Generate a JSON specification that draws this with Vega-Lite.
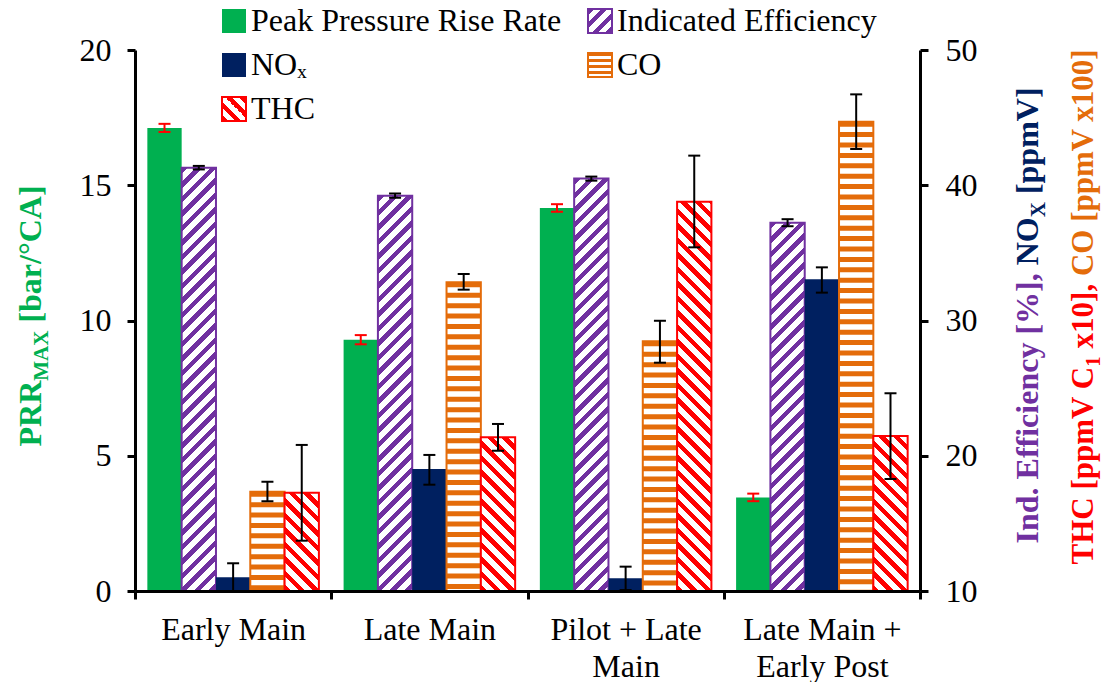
{
"$schema":"https://vega.github.io/schema/vega-lite/v6.json",
"width":785,"height":541,
"autosize":{"type":"none"},
"padding":{"left":135,"top":50,"right":184,"bottom":91},
"background":"white",
"params":[
{"name":"ps","value":[
{"offset":0,"color":"#7030a0"},{"offset":0.014,"color":"#7030a0"},{"offset":0.014,"color":"#fff"},{"offset":0.03125,"color":"#fff"},
{"offset":0.03125,"color":"#7030a0"},{"offset":0.04525,"color":"#7030a0"},{"offset":0.04525,"color":"#fff"},{"offset":0.0625,"color":"#fff"},
{"offset":0.0625,"color":"#7030a0"},{"offset":0.0765,"color":"#7030a0"},{"offset":0.0765,"color":"#fff"},{"offset":0.09375,"color":"#fff"},
{"offset":0.09375,"color":"#7030a0"},{"offset":0.10775,"color":"#7030a0"},{"offset":0.10775,"color":"#fff"},{"offset":0.125,"color":"#fff"},
{"offset":0.125,"color":"#7030a0"},{"offset":0.139,"color":"#7030a0"},{"offset":0.139,"color":"#fff"},{"offset":0.15625,"color":"#fff"},
{"offset":0.15625,"color":"#7030a0"},{"offset":0.17025,"color":"#7030a0"},{"offset":0.17025,"color":"#fff"},{"offset":0.1875,"color":"#fff"},
{"offset":0.1875,"color":"#7030a0"},{"offset":0.2015,"color":"#7030a0"},{"offset":0.2015,"color":"#fff"},{"offset":0.21875,"color":"#fff"},
{"offset":0.21875,"color":"#7030a0"},{"offset":0.23275,"color":"#7030a0"},{"offset":0.23275,"color":"#fff"},{"offset":0.25,"color":"#fff"},
{"offset":0.25,"color":"#7030a0"},{"offset":0.264,"color":"#7030a0"},{"offset":0.264,"color":"#fff"},{"offset":0.28125,"color":"#fff"},
{"offset":0.28125,"color":"#7030a0"},{"offset":0.29525,"color":"#7030a0"},{"offset":0.29525,"color":"#fff"},{"offset":0.3125,"color":"#fff"},
{"offset":0.3125,"color":"#7030a0"},{"offset":0.3265,"color":"#7030a0"},{"offset":0.3265,"color":"#fff"},{"offset":0.34375,"color":"#fff"},
{"offset":0.34375,"color":"#7030a0"},{"offset":0.35775,"color":"#7030a0"},{"offset":0.35775,"color":"#fff"},{"offset":0.375,"color":"#fff"},
{"offset":0.375,"color":"#7030a0"},{"offset":0.389,"color":"#7030a0"},{"offset":0.389,"color":"#fff"},{"offset":0.40625,"color":"#fff"},
{"offset":0.40625,"color":"#7030a0"},{"offset":0.42025,"color":"#7030a0"},{"offset":0.42025,"color":"#fff"},{"offset":0.4375,"color":"#fff"},
{"offset":0.4375,"color":"#7030a0"},{"offset":0.4515,"color":"#7030a0"},{"offset":0.4515,"color":"#fff"},{"offset":0.46875,"color":"#fff"},
{"offset":0.46875,"color":"#7030a0"},{"offset":0.48275,"color":"#7030a0"},{"offset":0.48275,"color":"#fff"},{"offset":0.5,"color":"#fff"},
{"offset":0.5,"color":"#7030a0"},{"offset":0.514,"color":"#7030a0"},{"offset":0.514,"color":"#fff"},{"offset":0.53125,"color":"#fff"},
{"offset":0.53125,"color":"#7030a0"},{"offset":0.54525,"color":"#7030a0"},{"offset":0.54525,"color":"#fff"},{"offset":0.5625,"color":"#fff"},
{"offset":0.5625,"color":"#7030a0"},{"offset":0.5765,"color":"#7030a0"},{"offset":0.5765,"color":"#fff"},{"offset":0.59375,"color":"#fff"},
{"offset":0.59375,"color":"#7030a0"},{"offset":0.60775,"color":"#7030a0"},{"offset":0.60775,"color":"#fff"},{"offset":0.625,"color":"#fff"},
{"offset":0.625,"color":"#7030a0"},{"offset":0.639,"color":"#7030a0"},{"offset":0.639,"color":"#fff"},{"offset":0.65625,"color":"#fff"},
{"offset":0.65625,"color":"#7030a0"},{"offset":0.67025,"color":"#7030a0"},{"offset":0.67025,"color":"#fff"},{"offset":0.6875,"color":"#fff"},
{"offset":0.6875,"color":"#7030a0"},{"offset":0.7015,"color":"#7030a0"},{"offset":0.7015,"color":"#fff"},{"offset":0.71875,"color":"#fff"},
{"offset":0.71875,"color":"#7030a0"},{"offset":0.73275,"color":"#7030a0"},{"offset":0.73275,"color":"#fff"},{"offset":0.75,"color":"#fff"},
{"offset":0.75,"color":"#7030a0"},{"offset":0.764,"color":"#7030a0"},{"offset":0.764,"color":"#fff"},{"offset":0.78125,"color":"#fff"},
{"offset":0.78125,"color":"#7030a0"},{"offset":0.79525,"color":"#7030a0"},{"offset":0.79525,"color":"#fff"},{"offset":0.8125,"color":"#fff"},
{"offset":0.8125,"color":"#7030a0"},{"offset":0.8265,"color":"#7030a0"},{"offset":0.8265,"color":"#fff"},{"offset":0.84375,"color":"#fff"},
{"offset":0.84375,"color":"#7030a0"},{"offset":0.85775,"color":"#7030a0"},{"offset":0.85775,"color":"#fff"},{"offset":0.875,"color":"#fff"},
{"offset":0.875,"color":"#7030a0"},{"offset":0.889,"color":"#7030a0"},{"offset":0.889,"color":"#fff"},{"offset":0.90625,"color":"#fff"},
{"offset":0.90625,"color":"#7030a0"},{"offset":0.92025,"color":"#7030a0"},{"offset":0.92025,"color":"#fff"},{"offset":0.9375,"color":"#fff"},
{"offset":0.9375,"color":"#7030a0"},{"offset":0.9515,"color":"#7030a0"},{"offset":0.9515,"color":"#fff"},{"offset":0.96875,"color":"#fff"},
{"offset":0.96875,"color":"#7030a0"},{"offset":0.98275,"color":"#7030a0"},{"offset":0.98275,"color":"#fff"},{"offset":1,"color":"#fff"}
]},
{"name":"pt","value":[
{"offset":0,"color":"red"},{"offset":0.014,"color":"red"},{"offset":0.014,"color":"#fff"},{"offset":0.03125,"color":"#fff"},
{"offset":0.03125,"color":"red"},{"offset":0.04525,"color":"red"},{"offset":0.04525,"color":"#fff"},{"offset":0.0625,"color":"#fff"},
{"offset":0.0625,"color":"red"},{"offset":0.0765,"color":"red"},{"offset":0.0765,"color":"#fff"},{"offset":0.09375,"color":"#fff"},
{"offset":0.09375,"color":"red"},{"offset":0.10775,"color":"red"},{"offset":0.10775,"color":"#fff"},{"offset":0.125,"color":"#fff"},
{"offset":0.125,"color":"red"},{"offset":0.139,"color":"red"},{"offset":0.139,"color":"#fff"},{"offset":0.15625,"color":"#fff"},
{"offset":0.15625,"color":"red"},{"offset":0.17025,"color":"red"},{"offset":0.17025,"color":"#fff"},{"offset":0.1875,"color":"#fff"},
{"offset":0.1875,"color":"red"},{"offset":0.2015,"color":"red"},{"offset":0.2015,"color":"#fff"},{"offset":0.21875,"color":"#fff"},
{"offset":0.21875,"color":"red"},{"offset":0.23275,"color":"red"},{"offset":0.23275,"color":"#fff"},{"offset":0.25,"color":"#fff"},
{"offset":0.25,"color":"red"},{"offset":0.264,"color":"red"},{"offset":0.264,"color":"#fff"},{"offset":0.28125,"color":"#fff"},
{"offset":0.28125,"color":"red"},{"offset":0.29525,"color":"red"},{"offset":0.29525,"color":"#fff"},{"offset":0.3125,"color":"#fff"},
{"offset":0.3125,"color":"red"},{"offset":0.3265,"color":"red"},{"offset":0.3265,"color":"#fff"},{"offset":0.34375,"color":"#fff"},
{"offset":0.34375,"color":"red"},{"offset":0.35775,"color":"red"},{"offset":0.35775,"color":"#fff"},{"offset":0.375,"color":"#fff"},
{"offset":0.375,"color":"red"},{"offset":0.389,"color":"red"},{"offset":0.389,"color":"#fff"},{"offset":0.40625,"color":"#fff"},
{"offset":0.40625,"color":"red"},{"offset":0.42025,"color":"red"},{"offset":0.42025,"color":"#fff"},{"offset":0.4375,"color":"#fff"},
{"offset":0.4375,"color":"red"},{"offset":0.4515,"color":"red"},{"offset":0.4515,"color":"#fff"},{"offset":0.46875,"color":"#fff"},
{"offset":0.46875,"color":"red"},{"offset":0.48275,"color":"red"},{"offset":0.48275,"color":"#fff"},{"offset":0.5,"color":"#fff"},
{"offset":0.5,"color":"red"},{"offset":0.514,"color":"red"},{"offset":0.514,"color":"#fff"},{"offset":0.53125,"color":"#fff"},
{"offset":0.53125,"color":"red"},{"offset":0.54525,"color":"red"},{"offset":0.54525,"color":"#fff"},{"offset":0.5625,"color":"#fff"},
{"offset":0.5625,"color":"red"},{"offset":0.5765,"color":"red"},{"offset":0.5765,"color":"#fff"},{"offset":0.59375,"color":"#fff"},
{"offset":0.59375,"color":"red"},{"offset":0.60775,"color":"red"},{"offset":0.60775,"color":"#fff"},{"offset":0.625,"color":"#fff"},
{"offset":0.625,"color":"red"},{"offset":0.639,"color":"red"},{"offset":0.639,"color":"#fff"},{"offset":0.65625,"color":"#fff"},
{"offset":0.65625,"color":"red"},{"offset":0.67025,"color":"red"},{"offset":0.67025,"color":"#fff"},{"offset":0.6875,"color":"#fff"},
{"offset":0.6875,"color":"red"},{"offset":0.7015,"color":"red"},{"offset":0.7015,"color":"#fff"},{"offset":0.71875,"color":"#fff"},
{"offset":0.71875,"color":"red"},{"offset":0.73275,"color":"red"},{"offset":0.73275,"color":"#fff"},{"offset":0.75,"color":"#fff"},
{"offset":0.75,"color":"red"},{"offset":0.764,"color":"red"},{"offset":0.764,"color":"#fff"},{"offset":0.78125,"color":"#fff"},
{"offset":0.78125,"color":"red"},{"offset":0.79525,"color":"red"},{"offset":0.79525,"color":"#fff"},{"offset":0.8125,"color":"#fff"},
{"offset":0.8125,"color":"red"},{"offset":0.8265,"color":"red"},{"offset":0.8265,"color":"#fff"},{"offset":0.84375,"color":"#fff"},
{"offset":0.84375,"color":"red"},{"offset":0.85775,"color":"red"},{"offset":0.85775,"color":"#fff"},{"offset":0.875,"color":"#fff"},
{"offset":0.875,"color":"red"},{"offset":0.889,"color":"red"},{"offset":0.889,"color":"#fff"},{"offset":0.90625,"color":"#fff"},
{"offset":0.90625,"color":"red"},{"offset":0.92025,"color":"red"},{"offset":0.92025,"color":"#fff"},{"offset":0.9375,"color":"#fff"},
{"offset":0.9375,"color":"red"},{"offset":0.9515,"color":"red"},{"offset":0.9515,"color":"#fff"},{"offset":0.96875,"color":"#fff"},
{"offset":0.96875,"color":"red"},{"offset":0.98275,"color":"red"},{"offset":0.98275,"color":"#fff"},{"offset":1,"color":"#fff"}
]},
{"name":"pc","value":[
{"offset":0,"color":"#e46c0a"},{"offset":0.125,"color":"#e46c0a"},{"offset":0.125,"color":"#fff"},{"offset":0.25,"color":"#fff"},
{"offset":0.25,"color":"#e46c0a"},{"offset":0.375,"color":"#e46c0a"},{"offset":0.375,"color":"#fff"},{"offset":0.5,"color":"#fff"},
{"offset":0.5,"color":"#e46c0a"},{"offset":0.625,"color":"#e46c0a"},{"offset":0.625,"color":"#fff"},{"offset":0.75,"color":"#fff"},
{"offset":0.75,"color":"#e46c0a"},{"offset":0.875,"color":"#e46c0a"},{"offset":0.875,"color":"#fff"},{"offset":1,"color":"#fff"}
]}
],
"data":{"values":[
{"g":"Early Main","s":"Peak Pressure Rise Rate","v":17.12,"lo":16.97,"hi":17.27},
{"g":"Early Main","s":"Indicated Efficiency","v":41.3,"lo":41.17,"hi":41.43},
{"g":"Early Main","s":"NOx","v":11.01,"lo":10.0,"hi":12.05},
{"g":"Early Main","s":"CO","v":17.34,"lo":16.63,"hi":18.08},
{"g":"Early Main","s":"THC","v":17.27,"lo":13.72,"hi":20.8},
{"g":"Late Main","s":"Peak Pressure Rise Rate","v":9.29,"lo":9.12,"hi":9.46},
{"g":"Late Main","s":"Indicated Efficiency","v":39.23,"lo":39.07,"hi":39.39},
{"g":"Late Main","s":"NOx","v":19.02,"lo":17.86,"hi":20.06},
{"g":"Late Main","s":"CO","v":32.82,"lo":32.28,"hi":33.44},
{"g":"Late Main","s":"THC","v":21.36,"lo":20.37,"hi":22.35},
{"g":"Pilot + Late Main","s":"Peak Pressure Rise Rate","v":14.16,"lo":14.02,"hi":14.3},
{"g":"Pilot + Late Main","s":"Indicated Efficiency","v":40.49,"lo":40.34,"hi":40.64},
{"g":"Pilot + Late Main","s":"NOx","v":10.95,"lo":10.07,"hi":11.8},
{"g":"Pilot + Late Main","s":"CO","v":28.46,"lo":26.88,"hi":29.98},
{"g":"Pilot + Late Main","s":"THC","v":38.78,"lo":35.41,"hi":42.19},
{"g":"Late Main + Early Post","s":"Peak Pressure Rise Rate","v":3.46,"lo":3.32,"hi":3.6},
{"g":"Late Main + Early Post","s":"Indicated Efficiency","v":37.23,"lo":36.97,"hi":37.49},
{"g":"Late Main + Early Post","s":"NOx","v":33.05,"lo":32.06,"hi":33.93},
{"g":"Late Main + Early Post","s":"CO","v":44.7,"lo":42.68,"hi":46.72},
{"g":"Late Main + Early Post","s":"THC","v":21.46,"lo":18.28,"hi":24.62}
]},
"encoding":{
"x":{"field":"g","type":"nominal","sort":null,
 "scale":{"domain":["Early Main","Late Main","Pilot + Late Main","Late Main + Early Post"],"paddingInner":0,"paddingOuter":0},
 "axis":{"title":null,"orient":"bottom","tickBand":"extent","labelAngle":0,"labelPadding":15,"labelLineHeight":37,"zindex":1,
  "labelExpr":"datum.label==='Pilot + Late Main'?['Pilot + Late','Main']:datum.label==='Late Main + Early Post'?['Late Main +','Early Post']:datum.label"}},
"xOffset":{"field":"s","type":"nominal","scale":{"domain":["Peak Pressure Rise Rate","Indicated Efficiency","NOx","CO","THC"],"paddingInner":0,"paddingOuter":0.36}}
},
"layer":[
{"transform":[{"filter":"datum.s==='Peak Pressure Rise Rate'"}],
 "mark":{"type":"bar","fill":"#00b050"},
 "encoding":{"y":{"field":"v","type":"quantitative","scale":{"domain":[0,20],"nice":false,"zero":false},
  "axis":{"orient":"left","values":[0,5,10,15,20],"labelPadding":16,"zindex":1,"title":"PRR","titleColor":"#00b050","titleX":-95,"titleY":396}}}},
{"transform":[{"filter":"datum.s==='Peak Pressure Rise Rate'"}],
 "mark":{"type":"rule","color":"red","strokeWidth":2},
 "encoding":{"y":{"field":"lo","type":"quantitative","scale":{"domain":[0,20],"nice":false,"zero":false},
  "axis":{"orient":"left","domain":false,"ticks":false,"labels":false,"title":"MAX","titleColor":"#00b050","titleFontSize":21,"titleX":-88,"titleY":330.2}},
  "y2":{"field":"hi"}}},
{"transform":[{"filter":"datum.s==='Peak Pressure Rise Rate'"}],
 "mark":{"type":"tick","color":"red","size":12,"thickness":2,"opacity":1},
 "encoding":{"y":{"field":"lo","type":"quantitative","scale":{"domain":[0,20],"nice":false,"zero":false},
  "axis":{"orient":"left","domain":false,"ticks":false,"labels":false,"title":"[bar/°CA]","titleColor":"#00b050","titleX":-95,"titleY":272.1}}}},
{"transform":[{"filter":"datum.s==='Peak Pressure Rise Rate'"}],
 "mark":{"type":"tick","color":"red","size":12,"thickness":2,"opacity":1},
 "encoding":{"y":{"field":"hi","type":"quantitative","scale":{"domain":[0,20],"nice":false,"zero":false},"axis":null}}},
{"transform":[{"filter":"datum.s==='Indicated Efficiency'"}],
 "mark":{"type":"bar","fill":{"expr":"{gradient:'linear',x1:0,y1:0,x2:464*34.31/(1177.2+pow((datum.v-10)*13.525,2)),y2:464*(datum.v-10)*13.525/(1177.2+pow((datum.v-10)*13.525,2)),stops:ps}"},"stroke":"#7030a0","strokeWidth":2},
 "encoding":{"y":{"field":"v","type":"quantitative","scale":{"domain":[10,50],"nice":false,"zero":false},
  "axis":{"orient":"right","values":[10,20,30,40,50],"labelPadding":17,"zindex":1,"title":"Ind. Efficiency [%],","titleColor":"#7030a0","titleX":117,"titleY":493}},
  "y2":{"datum":10}}},
{"transform":[{"filter":"datum.s==='NOx'"}],
 "mark":{"type":"bar","strokeWidth":2},
 "encoding":{"y":{"field":"v","type":"quantitative","scale":{"domain":[10,50],"nice":false,"zero":false},
  "axis":{"orient":"right","domain":false,"ticks":false,"labels":false,"title":"NO","titleColor":"#002060","titleX":117,"titleY":214.8}},
  "y2":{"datum":10},
  "color":{"field":"s","type":"nominal",
   "scale":{"domain":["Peak Pressure Rise Rate","Indicated Efficiency","NOx","CO","THC"],"range":["#00b050",
    {"expr":"{gradient:'linear',x1:0,y1:0,x2:9,y2:9,stops:ps}"},
    "#002060",
    {"expr":"{gradient:'linear',x1:0,y1:0,x2:0,y2:1,stops:pc}"},
    {"expr":"{gradient:'linear',x1:0,y1:1,x2:9,y2:-8,stops:pt}"}
   ]},
   "legend":{"orient":"none","legendX":83,"legendY":-45,"columns":2,"direction":"horizontal","title":null,"symbolType":"square","symbolSize":576,"symbolStrokeWidth":2,"symbolOpacity":1,
    "labelFont":"Liberation Serif","labelFontSize":32,"labelColor":"black","labelOffset":1,"labelLimit":500,"rowPadding":12,"columnPadding":22,"padding":0,
    "labelExpr":"datum.label==='NOx'?'NOₓ':datum.label"}},
  "stroke":{"field":"s","type":"nominal",
   "scale":{"domain":["Peak Pressure Rise Rate","Indicated Efficiency","NOx","CO","THC"],"range":["transparent","#7030a0","transparent","#e46c0a","red"]},
   "legend":{"orient":"none","legendX":83,"legendY":-45,"columns":2,"direction":"horizontal","title":null,"symbolType":"square","symbolSize":576,"symbolStrokeWidth":2,"symbolOpacity":1,
    "labelFont":"Liberation Serif","labelFontSize":32,"labelColor":"black","labelOffset":1,"labelLimit":500,"rowPadding":12,"columnPadding":22,"padding":0,
    "labelExpr":"datum.label==='NOx'?'NOₓ':datum.label"}}}},
{"transform":[{"filter":"datum.s==='CO'"}],
 "mark":{"type":"bar","fill":"#fff","stroke":"#e46c0a","strokeWidth":2},
 "encoding":{"y":{"field":"v","type":"quantitative","scale":{"domain":[10,50],"nice":false,"zero":false},
  "axis":{"orient":"right","domain":false,"ticks":false,"labels":false,"title":"X","titleColor":"#002060","titleFontSize":21,"titleX":124,"titleY":166.8}},
  "y2":{"datum":10}}},
{"transform":[{"filter":"datum.s==='CO'"}],
 "mark":{"type":"rule","color":"#e46c0a","strokeWidth":34.31,"strokeDash":[5,5.4],"strokeCap":"butt"},
 "encoding":{"y":{"field":"v","type":"quantitative","scale":{"domain":[10,50],"nice":false,"zero":false},
  "axis":{"orient":"right","domain":false,"ticks":false,"labels":false,"title":"[ppmV]","titleColor":"#002060","titleX":117,"titleY":143.6}},
  "y2":{"datum":10}}},
{"transform":[{"filter":"datum.s==='THC'"}],
 "mark":{"type":"bar","fill":{"expr":"{gradient:'linear',x1:0,y1:1,x2:464*34.31/(1177.2+pow((datum.v-10)*13.525,2)),y2:1-464*(datum.v-10)*13.525/(1177.2+pow((datum.v-10)*13.525,2)),stops:pt}"},"stroke":"red","strokeWidth":2},
 "encoding":{"y":{"field":"v","type":"quantitative","scale":{"domain":[10,50],"nice":false,"zero":false},
  "axis":{"orient":"right","domain":false,"ticks":false,"labels":false,"title":"THC [ppmV C","titleColor":"red","titleFontSize":31,"titleX":172,"titleY":514}},
  "y2":{"datum":10}}},
{"transform":[{"filter":"datum.s!=='Peak Pressure Rise Rate'"}],
 "mark":{"type":"rule","color":"black","strokeWidth":2},
 "encoding":{"y":{"field":"lo","type":"quantitative","scale":{"domain":[10,50],"nice":false,"zero":false},
  "axis":{"orient":"right","domain":false,"ticks":false,"labels":false,"title":"1","titleColor":"red","titleFontSize":20,"titleX":179,"titleY":315.9}},
  "y2":{"field":"hi"}}},
{"transform":[{"filter":"datum.s!=='Peak Pressure Rise Rate'"}],
 "mark":{"type":"tick","color":"black","size":12,"thickness":2,"opacity":1},
 "encoding":{"y":{"field":"lo","type":"quantitative","scale":{"domain":[10,50],"nice":false,"zero":false},
  "axis":{"orient":"right","domain":false,"ticks":false,"labels":false,"title":"x10],","titleColor":"red","titleFontSize":31,"titleX":172,"titleY":297.9}}}},
{"transform":[{"filter":"datum.s!=='Peak Pressure Rise Rate'"}],
 "mark":{"type":"tick","color":"black","size":12,"thickness":2,"opacity":1},
 "encoding":{"y":{"field":"hi","type":"quantitative","scale":{"domain":[10,50],"nice":false,"zero":false},
  "axis":{"orient":"right","domain":false,"ticks":false,"labels":false,"title":"CO [ppmV x100]","titleColor":"#e46c0a","titleFontSize":31,"titleX":172,"titleY":225.6}}}}
],
"resolve":{"scale":{"y":"independent"}},
"config":{
 "view":{"stroke":null},
 "font":"Liberation Serif",
 "legend":{"labelFont":"Liberation Serif"},
 "axis":{"grid":false,"labelFont":"Liberation Serif","labelFontSize":32,"labelColor":"black","domainColor":"black","domainWidth":3,"tickColor":"black","tickWidth":3,"tickSize":8,
  "titleFont":"Liberation Serif","titleFontSize":32,"titleFontWeight":"bold"},
 "axisY":{"titleAngle":270,"titleAlign":"left","titleBaseline":"alphabetic"}
}
}
